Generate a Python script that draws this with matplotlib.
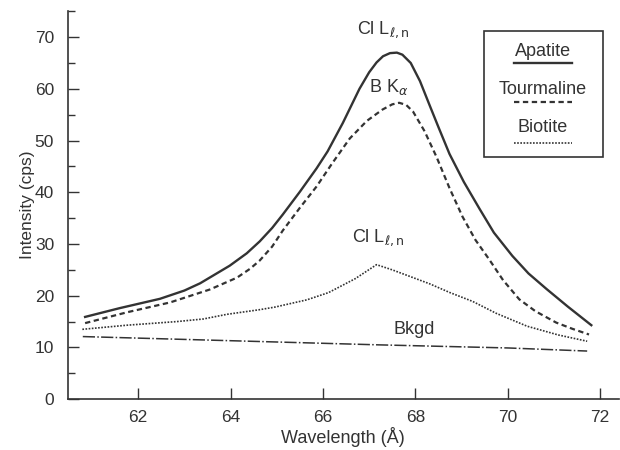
import matplotlib
matplotlib.use('Agg')
import matplotlib.pyplot as plt
from matplotlib.lines import Line2D
from matplotlib.patches import Rectangle
from matplotlib.ticker import MultipleLocator

plt.rcParams['font.family'] = ['Liberation Sans', 'DejaVu Sans']
plt.rcParams['mathtext.fontset'] = 'dejavusans'

# wavelength (A) / intensity (cps)
apatite_x = [60.85, 61.6, 62.47, 63.0, 63.34, 63.98, 64.35, 64.63, 64.9, 65.13,
             65.5, 65.86, 66.1, 66.43, 66.79, 67.0, 67.16, 67.3, 67.45, 67.6,
             67.72, 67.9, 68.1, 68.31, 68.5, 68.74, 69.05, 69.39, 69.7, 70.10,
             70.45, 70.84, 71.3, 71.81]
apatite_y = [15.9, 17.6, 19.4, 21.0, 22.4, 25.8, 28.2, 30.5, 33.1, 35.7,
             40.1, 44.6, 47.9, 53.4, 60.0, 63.2, 65.1, 66.3, 66.9, 67.0,
             66.6, 65.0, 61.5, 56.8, 52.6, 47.4, 42.0, 36.8, 32.2, 27.7,
             24.3, 21.3, 17.9, 14.3]

tourm_x = [60.85, 61.76, 62.69, 63.55, 64.14, 64.42, 64.63, 64.9, 65.13, 65.5,
           65.86, 66.2, 66.58, 66.95, 67.29, 67.5, 67.65, 67.8, 67.95, 68.2,
           68.46, 68.74, 69.02, 69.3, 69.6, 69.9, 70.25, 70.6, 71.05, 71.4,
           71.76]
tourm_y = [14.7, 16.8, 18.7, 21.2, 23.5, 25.2, 26.8, 29.5, 32.6, 37.0,
           41.1, 45.6, 50.4, 53.8, 56.0, 57.0, 57.3, 56.9, 55.6, 51.8,
           46.8, 40.8, 35.3, 30.8, 27.0, 23.0, 19.3, 17.0, 14.8, 13.6,
           12.5]

biot_x = [60.79, 61.76, 62.84, 63.41, 63.92, 64.63, 64.96, 65.65, 66.12, 66.7,
          67.16, 67.5, 68.07, 68.31, 68.75, 69.24, 69.75, 70.42, 71.1, 71.72]
biot_y = [13.5, 14.3, 15.0, 15.5, 16.4, 17.3, 17.8, 19.2, 20.6, 23.3,
          26.0, 25.0, 23.1, 22.3, 20.6, 18.9, 16.6, 14.1, 12.4, 11.2]

bkgd_x = [60.8, 64.0, 67.2, 70.0, 71.72]
bkgd_y = [12.1, 11.3, 10.5, 9.9, 9.3]

legend_labels = ['Apatite', 'Tourmaline', 'Biotite']

ink = '#333333'

fig = plt.figure(figsize=(6.2, 4.5), dpi=100)
ax = fig.add_axes([0.1097, 0.113, 0.888, 0.862])

ax.plot(apatite_x, apatite_y, color=ink, lw=1.7, ls='-')
ax.plot(tourm_x, tourm_y, color=ink, lw=1.6, ls=(0, (2.4, 1.6)))
ax.plot(biot_x, biot_y, color=ink, lw=1.2, ls=(0, (1, 0.9)))
ax.plot(bkgd_x, bkgd_y, color=ink, lw=1.1, ls=(0, (8, 1.5, 1, 1.5)))

ax.set_xlim(60.48, 72.4)
ax.set_ylim(0, 75)
ax.xaxis.set_major_locator(MultipleLocator(2))
ax.yaxis.set_minor_locator(MultipleLocator(5))
ax.set_yticks(range(0, 71, 10))
ax.tick_params(direction='in', colors=ink, labelsize=12.5, length=8, width=1)
ax.tick_params(axis='y', which='minor', direction='in', length=5, width=1, color=ink)
ax.tick_params(axis='y', pad=10)
ax.tick_params(axis='x', pad=8)
for s in ['top', 'right']:
    ax.spines[s].set_visible(False)
for s in ['left', 'bottom']:
    ax.spines[s].set_color(ink)
    ax.spines[s].set_linewidth(1.2)

ax.set_xlabel('Wavelength (\u00c5)', fontsize=13, color=ink, labelpad=1)
ax.set_ylabel('Intensity (cps)', fontsize=12.5, color=ink, labelpad=0)

# peak annotations
ax.text(67.3, 69.4, r'Cl L$_{\ell,\mathrm{n}}$', ha='center', va='bottom', fontsize=13, color=ink)
ax.text(67.42, 58.4, r'B K$_{\alpha}$', ha='center', va='bottom', fontsize=13, color=ink)
ax.text(67.2, 29.3, r'Cl L$_{\ell,\mathrm{n}}$', ha='center', va='bottom', fontsize=13, color=ink)
ax.text(67.97, 13.5, 'Bkgd', ha='center', va='center', fontsize=13, color=ink)

# hand-drawn legend box
fig.patches.append(Rectangle((484 / 620, 1 - 157 / 450), 119 / 620, 126 / 450,
                             transform=fig.transFigure, fill=False, ec=ink, lw=1.2))
styles = [dict(ls='-', lw=1.7), dict(ls=(0, (2.4, 1.6)), lw=1.6), dict(ls=(0, (1, 0.9)), lw=1.2)]
text_y = [52, 90, 128]
line_y = [63, 102, 143]
for lab, st, ty, ly in zip(legend_labels, styles, text_y, line_y):
    fig.text(543 / 620, 1 - ty / 450, lab, ha='center', va='center', fontsize=13, color=ink)
    fig.lines.append(Line2D([514 / 620, 572 / 620], [1 - ly / 450] * 2,
                            transform=fig.transFigure, color=ink, **st))

fig.savefig('out.png', dpi=100)
